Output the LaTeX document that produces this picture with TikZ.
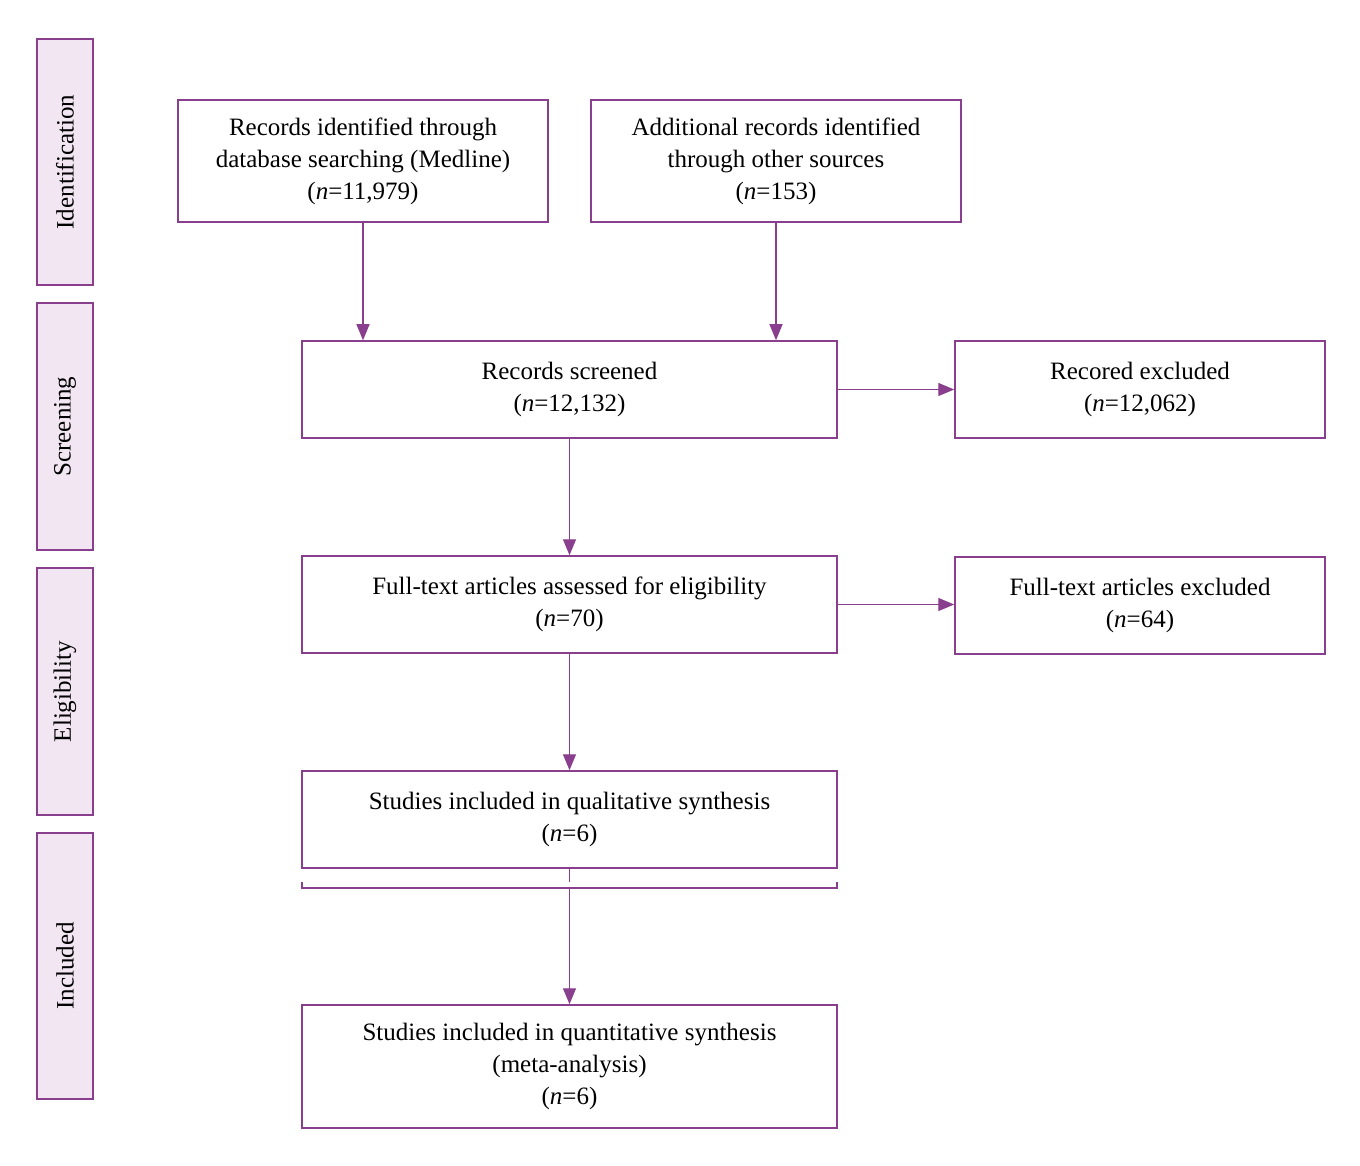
\documentclass[tikz,border=0pt]{standalone}
\usepackage{fontspec}
\setmainfont{Liberation Serif}
\usetikzlibrary{arrows.meta}
\definecolor{pur}{HTML}{8A3E8E}
\definecolor{pink}{HTML}{F2E6F2}
\tikzset{
  box/.style={draw=pur, line width=1.5pt, fill=white, align=center, inner sep=0pt,
    font=\fontsize{25}{32}\selectfont},
  side/.style={draw=pur, line width=1.5pt, fill=pink, minimum width=56pt, inner sep=0pt},
  sidetext/.style={rotate=90, font=\fontsize{25}{30}\selectfont},
  conn/.style={draw=pur, line width=1.3pt, -{Triangle[length=16pt,width=13pt]}},
  plain/.style={draw=pur, line width=1.3pt}
}
\begin{document}
\begin{tikzpicture}[x=1pt,y=-1pt]
\useasboundingbox (0,0) rectangle (1360,1166);
% side labels
\node[side, minimum height=246pt] (s1) at (65,162) {};
\node[sidetext] (t1) at (s1.center) {Identification};
\node[side, minimum height=247pt] (s2) at (65,426.5) {};
\node[sidetext] (t2) at (s2.center) {Screening};
\node[side, minimum height=247pt] (s3) at (65,691.5) {};
\node[sidetext] (t3) at (s3.center) {Eligibility};
\node[side, minimum height=266pt] (s4) at (65,966) {};
\node[sidetext] (t4) at (s4.center) {Included};
% boxes
\node[box, minimum width=370pt, minimum height=122pt] (b1) at (363,161) {Records identified through\\database searching (Medline)\\(\textit{n}=11,979)};
\node[box, minimum width=370pt, minimum height=122pt] (b2) at (776,161) {Additional records identified\\through other sources\\(\textit{n}=153)};
\node[box, minimum width=535pt, minimum height=97pt] (b3) at (569.5,389.5) {Records screened\\(\textit{n}=12,132)};
\node[box, minimum width=370pt, minimum height=97pt] (b4) at (1140,389.5) {Recored excluded\\(\textit{n}=12,062)};
\node[box, minimum width=535pt, minimum height=97pt] (b5) at (569.5,604.5) {Full-text articles assessed for eligibility\\(\textit{n}=70)};
\node[box, minimum width=370pt, minimum height=97pt] (b6) at (1140,605.5) {Full-text articles excluded\\(\textit{n}=64)};
\node[box, minimum width=535pt, minimum height=97pt] (b7) at (569.5,819.5) {Studies included in qualitative synthesis\\(\textit{n}=6)};
\node[box, minimum width=535pt, minimum height=123pt] (b8) at (569.5,1066.5) {Studies included in quantitative synthesis\\(meta-analysis)\\(\textit{n}=6)};
% connectors
\draw[conn] (b1.south) -- (b1.south |- b3.north);
\draw[conn] (b2.south) -- (b2.south |- b3.north);
\draw[conn] (b3.east) -- (b4.west);
\draw[conn] (b3.south) -- (b5.north);
\draw[conn] (b5.east) -- (b5.east -| b6.west);
\draw[conn] (b5.south) -- (b7.north);
\coordinate (k1) at (569.5,882);
\coordinate (k2) at (569.5,888);
\draw[plain] (b7.south) -- (k1);
\draw[plain] (302,882) -- (302,888) -- (837,888) -- (837,882);
\draw[conn] (k2) -- (b8.north);
\end{tikzpicture}
\end{document}
